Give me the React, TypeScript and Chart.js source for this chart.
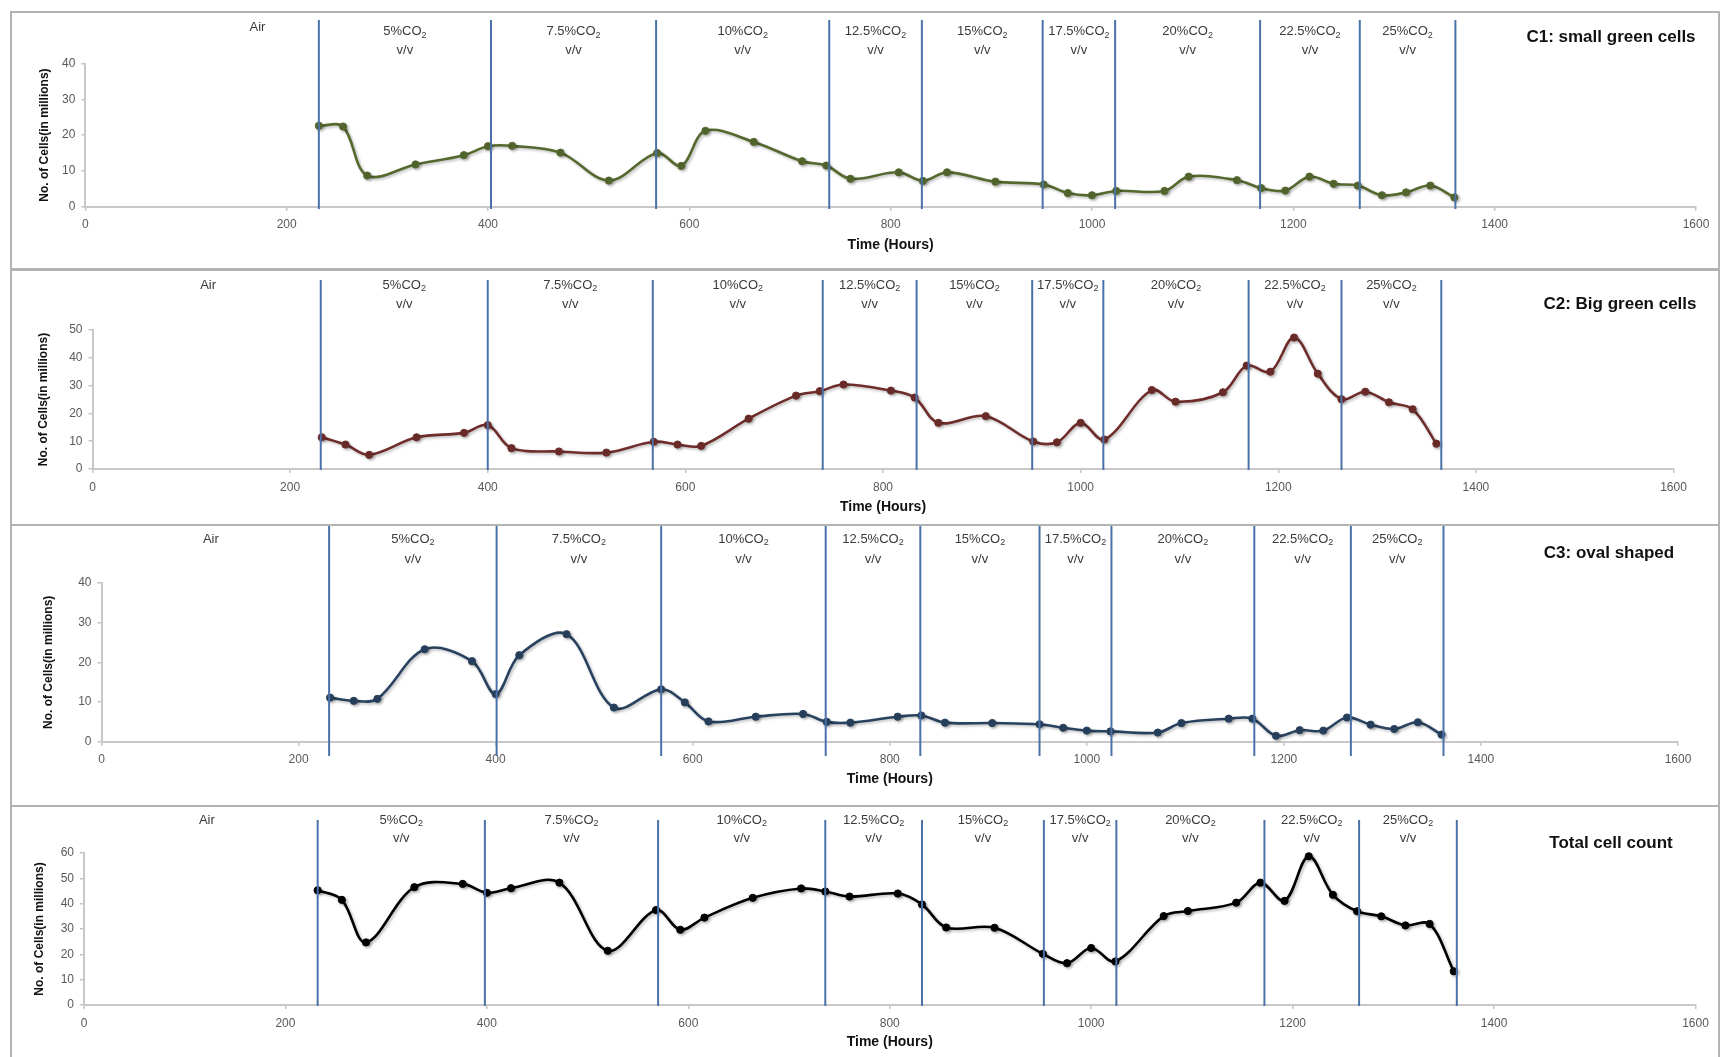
import React, { useEffect, useRef } from "react";
import { Chart, registerables } from "chart.js";

Chart.register(...registerables);

// ---------------- data ----------------
const hours = [232, 256, 280, 328, 376, 400, 424, 472, 520, 568, 592, 616, 664, 712, 736, 760, 808, 832, 856, 904, 952, 976, 1000, 1024, 1072, 1096, 1144, 1168, 1192, 1216, 1240, 1264, 1288, 1312, 1336, 1360];

const c1SmallGreen = [22.6, 22.4, 8.7, 11.8, 14.4, 16.9, 17.0, 15.1, 7.3, 15.0, 11.4, 21.2, 18.1, 12.7, 11.5, 7.8, 9.6, 7.2, 9.6, 7.0, 6.2, 3.8, 3.2, 4.4, 4.4, 8.4, 7.4, 5.2, 4.5, 8.4, 6.4, 5.9, 3.2, 4.0, 5.9, 2.6];

const c2BigGreen = [11.4, 8.8, 5.1, 11.4, 13.0, 15.8, 7.5, 6.3, 5.9, 9.8, 8.8, 8.3, 18.1, 26.4, 28.0, 30.4, 28.2, 25.7, 16.6, 19.0, 9.9, 9.6, 16.6, 10.6, 28.4, 24.2, 27.6, 37.2, 35.0, 47.3, 34.3, 25.1, 27.8, 24.0, 21.5, 9.1];

const c3Oval = [11.1, 10.3, 10.8, 23.3, 20.3, 12.0, 21.8, 27.1, 8.6, 13.2, 9.9, 5.1, 6.3, 7.0, 5.0, 4.8, 6.3, 6.6, 4.8, 4.7, 4.4, 3.5, 2.8, 2.6, 2.3, 4.7, 5.8, 5.8, 1.5, 2.9, 2.8, 6.1, 4.3, 3.2, 4.9, 1.8];

const totalCount = [45.3, 41.5, 24.7, 46.5, 47.8, 44.3, 46.1, 48.3, 21.4, 37.5, 29.7, 34.5, 42.3, 46.0, 44.8, 42.8, 44.0, 39.7, 30.6, 30.5, 20.2, 16.5, 22.5, 17.2, 35.1, 37.1, 40.4, 48.3, 41.1, 58.7, 43.5, 37.0, 35.0, 31.4, 32.0, 13.3];

// CO2 phases (v/v) and the hours where the gas was changed
const co2Levels = ["5%", "7.5%", "10%", "12.5%", "15%", "17.5%", "20%", "22.5%", "25%"];
const dividersC1 = [232, 403, 567, 739, 831, 951, 1023, 1167, 1266, 1361];
const dividersC2 = [231, 400, 567, 739, 834, 951, 1023, 1170, 1264, 1365];
const dividersC3 = [231, 401, 568, 735, 831, 952, 1025, 1170, 1268, 1362];
const dividersTotal = [232, 398, 570, 736, 832, 953, 1025, 1172, 1266, 1363];

const xMax = 1600;
const xStep = 200;
const yStep = 10;
const yMaxC1 = 40;
const yMaxC2 = 50;
const yMaxC3 = 40;
const yMaxTotal = 60;

const panelTitles = ["C1: small green cells", "C2: Big green cells", "C3: oval shaped", "Total cell count"];
const xAxisTitle = "Time (Hours)";
const yAxisTitle = "No. of Cells(in millions)";
const airLabel = "Air";

// ---------------- layout ----------------
const FONT = "'Liberation Sans', Arial, sans-serif";
const CANVAS_LEFT = 12;
const CANVAS_W = 1706;
const Y_TITLE_SIZE = 12;
const X_TITLE_SIZE = 14;

type PanelCfg = {
  title: string;
  values: number[];
  color: string;
  yMax: number;
  dividers: number[];
  airHour: number;
  top: number;
  height: number;
  x0: number;
  xEnd: number;
  y0: number;
  yTop: number;
  yTitleX: number;
  xTitleY: number;
  divTop: number;
  divBottom: number;
  airBase: number;
  base1: number;
  base2: number;
  titleX: number;
  titleBase: number;
  borderTop: number;
  borderH: number;
};

const panels: PanelCfg[] = [
  {
    title: panelTitles[0], values: c1SmallGreen, color: "#55692f", yMax: yMaxC1, dividers: dividersC1, airHour: 171,
    top: 13, height: 255, x0: 85.3, xEnd: 1696, y0: 206.7, yTop: 63.5, yTitleX: 45, xTitleY: 245,
    divTop: 20, divBottom: 209, airBase: 31, base1: 35, base2: 53.5, titleX: 1611, titleBase: 42, borderTop: 11, borderH: 259,
  },
  {
    title: panelTitles[1], values: c2BigGreen, color: "#6e2d2a", yMax: yMaxC2, dividers: dividersC2, airHour: 117,
    top: 271, height: 252, x0: 92.5, xEnd: 1673.5, y0: 469, yTop: 330, yTitleX: 44, xTitleY: 507,
    divTop: 280, divBottom: 470, airBase: 288.5, base1: 288.5, base2: 307.5, titleX: 1620, titleBase: 309, borderTop: 269, borderH: 257,
  },
  {
    title: panelTitles[2], values: c3Oval, color: "#28425f", yMax: yMaxC3, dividers: dividersC3, airHour: 111,
    top: 526, height: 278, x0: 101.5, xEnd: 1678, y0: 741.7, yTop: 583, yTitleX: 49, xTitleY: 779.5,
    divTop: 526, divBottom: 756, airBase: 542.5, base1: 542.5, base2: 563, titleX: 1609, titleBase: 558, borderTop: 524, borderH: 283,
  },
  {
    title: panelTitles[3], values: totalCount, color: "#000000", yMax: yMaxTotal, dividers: dividersTotal, airHour: 122,
    top: 807, height: 250, x0: 84, xEnd: 1695.5, y0: 1005, yTop: 853, yTitleX: 40, xTitleY: 1042,
    divTop: 820, divBottom: 1006, airBase: 823.5, base1: 823.5, base2: 841.5, titleX: 1611, titleBase: 848, borderTop: 805, borderH: 262,
  },
];

function makeOverlay(p: PanelCfg) {
  return {
    id: "overlay",
    beforeDatasetDraw(chart: any) {
      const ctx = chart.ctx;
      ctx.save();
      ctx.shadowColor = "rgba(0,0,0,0.28)";
      ctx.shadowBlur = 3;
      ctx.shadowOffsetX = 1.5;
      ctx.shadowOffsetY = 1.5;
    },
    afterDatasetDraw(chart: any) {
      chart.ctx.restore();
    },
    afterDraw(chart: any) {
      const ctx = chart.ctx;
      const xs = chart.scales.x;
      ctx.save();
      // divider lines
      ctx.strokeStyle = "#4a72a8";
      ctx.lineWidth = 2;
      p.dividers.forEach((h) => {
        const x = xs.getPixelForValue(h);
        ctx.beginPath();
        ctx.moveTo(x, p.divTop - p.top);
        ctx.lineTo(x, p.divBottom - p.top);
        ctx.stroke();
      });
      // phase labels
      ctx.fillStyle = "#3a3a3a";
      ctx.textBaseline = "alphabetic";
      const b1 = p.base1 - p.top;
      const b2 = p.base2 - p.top;
      ctx.font = `13px ${FONT}`;
      ctx.textAlign = "center";
      ctx.fillText(airLabel, xs.getPixelForValue(p.airHour), p.airBase - p.top);
      co2Levels.forEach((lvl, i) => {
        const cx = xs.getPixelForValue((p.dividers[i] + p.dividers[i + 1]) / 2);
        const main = `${lvl}CO`;
        ctx.font = `13px ${FONT}`;
        const w1 = ctx.measureText(main).width;
        ctx.font = `9px ${FONT}`;
        const w2 = ctx.measureText("2").width;
        const start = cx - (w1 + w2) / 2;
        ctx.textAlign = "left";
        ctx.font = `13px ${FONT}`;
        ctx.fillText(main, start, b1);
        ctx.font = `9px ${FONT}`;
        ctx.fillText("2", start + w1, b1 + 2.5);
        ctx.font = `13px ${FONT}`;
        ctx.textAlign = "center";
        ctx.fillText("v/v", cx, b2);
      });
      // panel title
      ctx.fillStyle = "#111111";
      ctx.font = `bold 17px ${FONT}`;
      ctx.textAlign = "center";
      ctx.fillText(p.title, p.titleX - CANVAS_LEFT, p.titleBase - p.top);
      ctx.restore();
    },
  };
}

function Panel({ p }: { p: PanelCfg }) {
  const ref = useRef<HTMLCanvasElement | null>(null);
  useEffect(() => {
    if (!ref.current) return;
    const yLH = Y_TITLE_SIZE * 1.2;
    const xLH = X_TITLE_SIZE * 1.2;
    const padLeft = p.yTitleX - CANVAS_LEFT - yLH / 2;
    const yWidth = p.x0 - CANVAS_LEFT - padLeft;
    const padRight = CANVAS_LEFT + CANVAS_W - p.xEnd;
    const padTop = p.yTop - p.top;
    const padBottom = p.top + p.height - p.xTitleY - xLH / 2;
    const xHeight = p.top + p.height - padBottom - p.y0;

    const tickFont = { family: FONT, size: 12 };
    const chart = new Chart(ref.current, {
      type: "line",
      data: {
        datasets: [
          {
            data: hours.map((h, i) => ({ x: h, y: p.values[i] })),
            borderColor: p.color,
            backgroundColor: p.color,
            borderWidth: 2.6,
            tension: 0.35,
            pointRadius: 3.6,
            pointBackgroundColor: p.color,
            pointBorderColor: p.color,
            pointBorderWidth: 1,
            fill: false,
            clip: 8,
          },
        ],
      },
      options: {
        animation: false,
        responsive: false,
        devicePixelRatio: 1,
        layout: { padding: { left: padLeft, right: padRight, top: padTop, bottom: padBottom } },
        plugins: { legend: { display: false }, tooltip: { enabled: false } },
        scales: {
          x: {
            type: "linear",
            min: 0,
            max: xMax,
            ticks: {
              stepSize: xStep,
              color: "#595959",
              font: tickFont,
              padding: 7,
              maxRotation: 0,
              autoSkip: false,
              callback: (v: any) => String(v),
            },
            grid: { display: true, drawOnChartArea: false, drawTicks: true, tickLength: 4, color: "#c4c4c4", lineWidth: 1.5 },
            border: { display: true, color: "#c8c8c8", width: 2 },
            title: {
              display: true,
              text: xAxisTitle,
              color: "#111111",
              font: { family: FONT, size: X_TITLE_SIZE, weight: "bold" },
              padding: 0,
            },
            afterFit: (s: any) => {
              s.height = xHeight;
            },
          },
          y: {
            type: "linear",
            min: 0,
            max: p.yMax,
            ticks: {
              stepSize: yStep,
              color: "#595959",
              font: tickFont,
              padding: 6,
              callback: (v: any) => String(v),
            },
            grid: { display: true, drawOnChartArea: false, drawTicks: true, tickLength: 4, color: "#c4c4c4", lineWidth: 1.5 },
            border: { display: true, color: "#c8c8c8", width: 2 },
            title: {
              display: true,
              text: yAxisTitle,
              color: "#111111",
              font: { family: FONT, size: Y_TITLE_SIZE, weight: "bold" },
              padding: 0,
            },
            afterFit: (s: any) => {
              s.width = yWidth;
            },
          },
        },
      },
      plugins: [makeOverlay(p)],
    } as any);
    return () => chart.destroy();
  }, [p]);

  return (
    <>
      <div
        style={{
          position: "absolute",
          left: 10,
          top: p.borderTop,
          width: 1710,
          height: p.borderH,
          boxSizing: "border-box",
          border: "2px solid #b3b3b3",
        }}
      />
      <canvas
        ref={ref}
        width={CANVAS_W}
        height={p.height}
        style={{ position: "absolute", left: CANVAS_LEFT, top: p.top, width: CANVAS_W, height: p.height }}
      />
    </>
  );
}

export default function App() {
  return (
    <div
      style={{
        position: "fixed",
        left: 0,
        top: 0,
        width: 1721,
        height: 1057,
        background: "#ffffff",
        overflow: "hidden",
      }}
    >
      {panels.map((p, i) => (
        <Panel key={i} p={p} />
      ))}
    </div>
  );
}
